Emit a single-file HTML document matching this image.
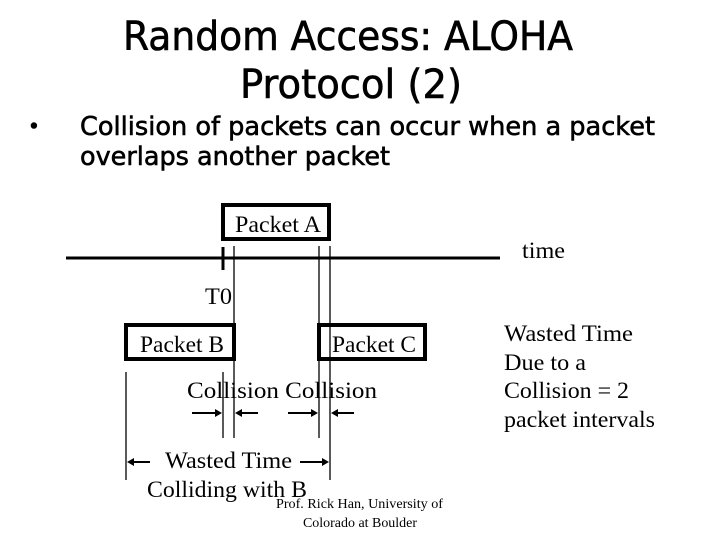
<!DOCTYPE html>
<html><head><meta charset="utf-8"><style>
html,body{margin:0;padding:0;background:#fff;}
svg{display:block}
.c{font-family:"DejaVu Sans",sans-serif;}
.s{font-family:"Liberation Serif",serif;font-size:23px;}
</style></head><body>
<svg width="720" height="540" xmlns="http://www.w3.org/2000/svg">
<g class="c" fill="#000" stroke="#000" stroke-width="0.6">
<text x="123" y="50" font-size="40" textLength="450" lengthAdjust="spacingAndGlyphs">Random Access: ALOHA</text>
<text x="240" y="98" font-size="40" textLength="222" lengthAdjust="spacingAndGlyphs">Protocol (2)</text>
<text x="28" y="133" font-size="20">•</text>
<text x="80" y="135" font-size="26" textLength="575" lengthAdjust="spacingAndGlyphs">Collision of packets can occur when a packet</text>
<text x="80" y="165" font-size="26" textLength="310" lengthAdjust="spacingAndGlyphs">overlaps another packet</text>
</g>
<g stroke="#000" fill="none">
<rect x="223" y="205" width="106" height="34" stroke-width="4"/>
<rect x="126" y="325" width="108" height="34" stroke-width="4"/>
<rect x="319" y="325" width="106" height="34" stroke-width="4"/>
<line x1="66" y1="258" x2="500" y2="258" stroke-width="3"/>
<line x1="223" y1="247" x2="223" y2="270" stroke-width="3"/>
<line x1="234" y1="246" x2="234" y2="438" stroke-width="1.3"/>
<line x1="319" y1="246" x2="319" y2="438" stroke-width="1.3"/>
<line x1="330" y1="246" x2="330" y2="480" stroke-width="1.3"/>
<line x1="126" y1="372" x2="126" y2="480" stroke-width="1.3"/>
<line x1="223" y1="372" x2="223" y2="438" stroke-width="1.3"/>
<g stroke-width="2">
<line x1="192" y1="413" x2="217" y2="413"/><line x1="240" y1="413" x2="258" y2="413"/>
<line x1="288" y1="413" x2="313" y2="413"/><line x1="336" y1="413" x2="354" y2="413"/>
<line x1="132" y1="462" x2="150" y2="462"/><line x1="300" y1="462" x2="324" y2="462"/>
</g>
</g>
<g fill="#000">
<polygon points="222,413 215,409 215,417"/><polygon points="235,413 242,409 242,417"/>
<polygon points="318,413 311,409 311,417"/><polygon points="331,413 338,409 338,417"/>
<polygon points="127,462 134,458 134,466"/><polygon points="329,462 322,458 322,466"/>
</g>
<g class="s" fill="#000">
<text x="235" y="232" textLength="86" lengthAdjust="spacingAndGlyphs">Packet A</text>
<text x="140" y="352" textLength="84" lengthAdjust="spacingAndGlyphs">Packet B</text>
<text x="332" y="352" textLength="84" lengthAdjust="spacingAndGlyphs">Packet C</text>
<text x="522" y="258" textLength="43" lengthAdjust="spacingAndGlyphs">time</text>
<text x="205" y="304" textLength="27" lengthAdjust="spacingAndGlyphs">T0</text>
<text x="187" y="398" textLength="190" lengthAdjust="spacingAndGlyphs">Collision  Collision</text>
<text x="165" y="468" textLength="127" lengthAdjust="spacingAndGlyphs">Wasted Time</text>
<text x="147" y="497" textLength="160" lengthAdjust="spacingAndGlyphs">Colliding with B</text>
<text x="504" y="341" textLength="129" lengthAdjust="spacingAndGlyphs">Wasted Time</text>
<text x="504" y="370" textLength="82" lengthAdjust="spacingAndGlyphs">Due to a</text>
<text x="504" y="398" textLength="125" lengthAdjust="spacingAndGlyphs">Collision = 2</text>
<text x="504" y="427" textLength="151" lengthAdjust="spacingAndGlyphs">packet intervals</text>
<text x="276" y="508" font-size="14" textLength="167" lengthAdjust="spacingAndGlyphs">Prof. Rick Han, University of</text>
<text x="303" y="527" font-size="14" textLength="114" lengthAdjust="spacingAndGlyphs">Colorado at Boulder</text>
</g>
</svg>
</body></html>
